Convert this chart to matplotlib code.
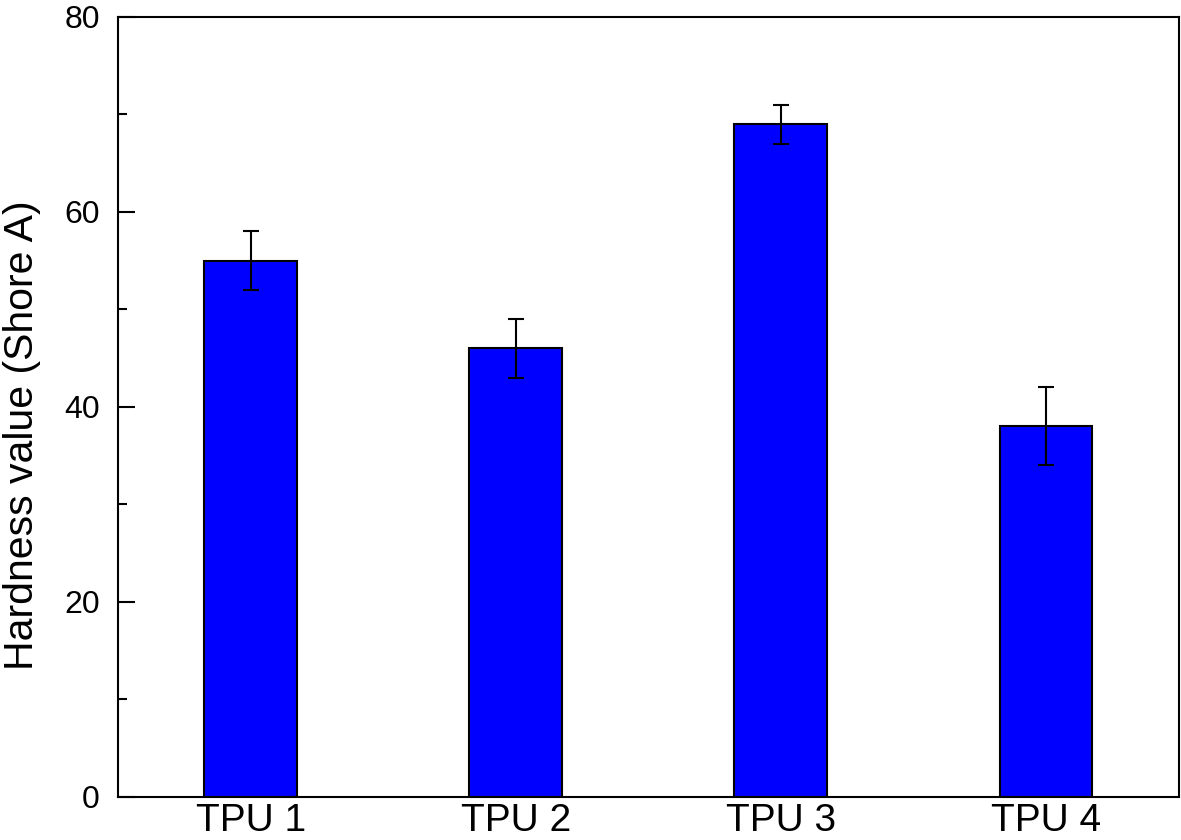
import matplotlib
matplotlib.use("Agg")
import matplotlib.pyplot as plt
from matplotlib.ticker import MultipleLocator

categories = ["TPU 1", "TPU 2", "TPU 3", "TPU 4"]
hardness = [55, 46, 69, 38]
errors = [3, 3, 2, 4]

plt.rcParams['font.family'] = ['Liberation Sans', 'DejaVu Sans']

fig = plt.figure(figsize=(11.81, 8.40), dpi=100)
ax = fig.add_axes([0.0999, 0.0512, 0.8981, 0.9286])

x = list(range(1, len(categories) + 1))
ax.bar(x, hardness, width=0.35, color="#0000FF", edgecolor="black", linewidth=1.5,
       yerr=errors, error_kw=dict(ecolor="black", elinewidth=1.5, capsize=6, capthick=1.5))

ax.set_xlim(0.5, 4.5)
ax.set_ylim(0, 80)
ax.set_xticks(x)
ax.set_xticklabels(categories)
ax.yaxis.set_major_locator(MultipleLocator(20))
ax.yaxis.set_minor_locator(MultipleLocator(10))
ax.tick_params(axis='y', which='major', direction='in', length=12, width=1.5, labelsize=23, pad=13)
ax.tick_params(axis='y', which='minor', direction='in', length=6.5, width=1.5)
ax.tick_params(axis='x', which='both', length=0, labelsize=28, pad=4)
ax.set_ylabel("Hardness value (Shore A)", fontsize=29.5)
ax.yaxis.set_label_coords(-0.073, 0.464)
for s in ax.spines.values():
    s.set_linewidth(1.5)

fig.savefig("out.png", dpi=100)
